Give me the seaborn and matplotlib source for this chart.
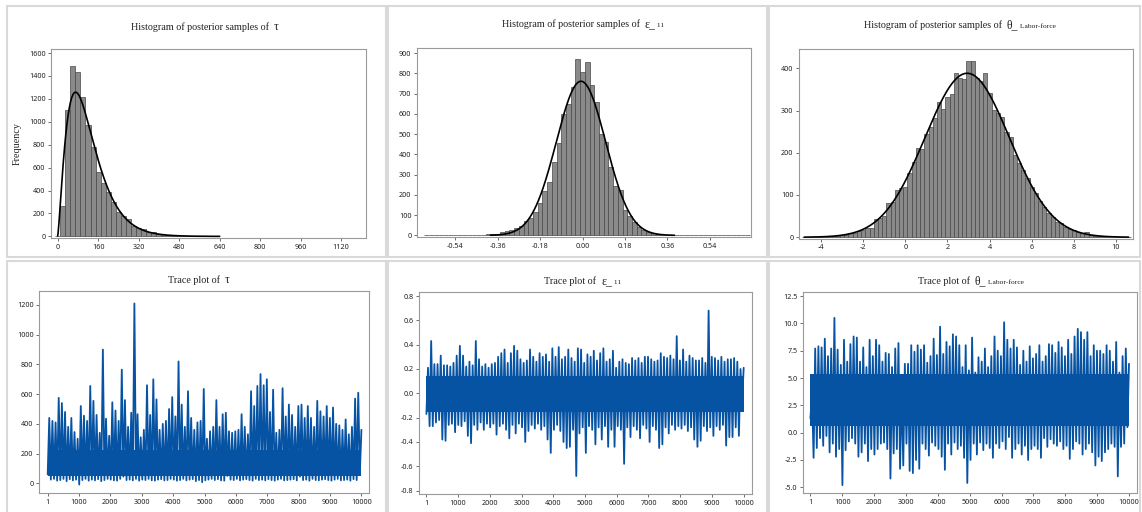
import math
import numpy as np
import pandas as pd
import matplotlib
matplotlib.use("Agg")
import matplotlib.pyplot as plt
import seaborn as sns
from matplotlib.patches import Rectangle
from matplotlib.offsetbox import TextArea, HPacker, AnchoredOffsetbox

# ---- histogram data (bin midpoints + counts) ----
tau_width = 20
tau_mids = np.arange(0, 620, 20)
tau_counts = [3, 267, 1105, 1491, 1433, 1215, 968, 776, 561, 465,
              390, 300, 209, 180, 150, 95, 72, 65, 42, 35,
              25, 15, 12, 8, 6, 4, 3, 2, 2, 1, 1]

eps_width = 0.02
eps_mids = np.round(np.arange(-0.66, 0.7001, 0.02), 2)
eps_counts = [1, 0, 0, 0, 0, 0, 0, 0, 0, 1, 1, 2,
              3, 5, 6, 8, 15, 20, 26, 35, 48, 70,
              88, 113, 158, 220, 262, 360, 455, 598, 650, 733,
              872, 805, 858, 740, 660, 500, 460, 340, 245, 222,
              125, 95, 65, 42, 28, 16, 10, 6, 4, 3,
              2, 1, 0, 0, 0, 0, 0, 0, 0, 0, 0, 0, 0, 0, 0, 1, 0]

theta_width = 0.2
theta_mids = np.round(np.arange(78) * 0.2 - 4.8, 1)
theta_counts = [1, 1, 1, 1, 2, 2, 3, 3, 4, 5,
                6, 9, 11, 14, 18, 22, 21, 44, 45, 50,
                80, 83, 113, 116, 120, 152, 178, 211, 209, 245,
                262, 282, 321, 303, 331, 338, 390, 377, 374, 418,
                418, 376, 370, 390, 342, 301, 293, 285, 250, 238,
                195, 175, 160, 140, 120, 105, 85, 72, 58, 47,
                35, 33, 25, 20, 16, 13, 11, 13, 6, 4,
                3, 2, 1, 1, 1, 1, 1, 0]

# ---- trace data: upper / lower swings of the chain, every 100 iterations ----
tau_hi = [440, 420, 410, 575, 540, 480, 380, 440, 345, 300,
          520, 455, 420, 655, 555, 460, 340, 900, 435, 320,
          545, 490, 420, 765, 560, 380, 475, 1210, 465, 310,
          360, 660, 460, 700, 565, 360, 400, 420, 500, 580,
          450, 820, 530, 380, 620, 440, 360, 410, 420, 635,
          300, 350, 380, 560, 380, 465, 475, 350, 340, 350,
          360, 465, 380, 330, 620, 520, 655, 735, 660, 700,
          480, 630, 340, 360, 640, 450, 530, 460, 380, 520,
          530, 440, 520, 440, 380, 555, 485, 450, 520, 440,
          510, 400, 390, 360, 430, 330, 380, 570, 610, 360]
tau_lo = [60, 25, 30, 18, 22, 30, 15, 28, 20, 25,
          -8, 22, 30, 18, 25, 20, 28, 15, 22, 30,
          25, 20, 18, 30, 45, 22, 25, 20, 30, 18,
          25, 22, 30, 20, 18, 25, 28, 20, 22, 30,
          25, 18, 22, 30, 20, 25, 28, 15, 22, 8,
          20, 25, 30, 22, 28, 20, 18, 50, 25, 22,
          30, 20, 25, 28, 22, 18, 30, 22, 25, 20,
          28, 22, 18, 25, 30, 20, 22, 25, 28, 20,
          45, 22, 25, 18, 30, 22, 20, 25, 28, 22,
          18, 25, 30, 20, 22, 25, 18, 28, 22, 60]
tau_core = (50, 225)  # range the chain fills solidly

eps_hi = [0.21, 0.43, 0.24, 0.24, 0.31, 0.23, 0.23, 0.22, 0.25, 0.31,
          0.39, 0.31, 0.22, 0.26, 0.23, 0.43, 0.28, 0.22, 0.24, 0.21,
          0.24, 0.25, 0.30, 0.33, 0.36, 0.25, 0.33, 0.39, 0.35, 0.28,
          0.25, 0.27, 0.36, 0.30, 0.26, 0.33, 0.30, 0.32, 0.26, 0.37,
          0.30, 0.38, 0.28, 0.30, 0.36, 0.29, 0.26, 0.37, 0.36, 0.25,
          0.32, 0.30, 0.35, 0.27, 0.33, 0.37, 0.26, 0.28, 0.35, 0.21,
          0.26, 0.28, 0.25, 0.24, 0.29, 0.27, 0.29, 0.25, 0.30, 0.30,
          0.28, 0.26, 0.27, 0.33, 0.30, 0.29, 0.31, 0.28, 0.47, 0.27,
          0.36, 0.26, 0.31, 0.29, 0.27, 0.27, 0.29, 0.25, 0.68, 0.30,
          0.29, 0.27, 0.30, 0.26, 0.28, 0.28, 0.29, 0.26, 0.20, 0.21]
eps_lo = [-0.17, -0.27, -0.27, -0.24, -0.22, -0.38, -0.39, -0.26, -0.25, -0.32,
          -0.26, -0.27, -0.23, -0.35, -0.41, -0.26, -0.30, -0.24, -0.30, -0.25,
          -0.28, -0.25, -0.34, -0.27, -0.25, -0.30, -0.37, -0.26, -0.33, -0.25,
          -0.28, -0.40, -0.31, -0.26, -0.29, -0.25, -0.30, -0.27, -0.38, -0.49,
          -0.30, -0.26, -0.31, -0.40, -0.45, -0.44, -0.30, -0.68, -0.33, -0.28,
          -0.49, -0.27, -0.30, -0.42, -0.28, -0.38, -0.27, -0.44, -0.30, -0.44,
          -0.27, -0.30, -0.58, -0.28, -0.36, -0.27, -0.30, -0.37, -0.26, -0.29,
          -0.40, -0.27, -0.30, -0.45, -0.42, -0.28, -0.33, -0.26, -0.30, -0.27,
          -0.29, -0.26, -0.31, -0.28, -0.38, -0.44, -0.39, -0.27, -0.31, -0.28,
          -0.35, -0.27, -0.30, -0.26, -0.43, -0.36, -0.36, -0.28, -0.35, -0.07]
eps_core = (-0.15, 0.14)

theta_hi = [3.5, 7.7, 7.9, 7.8, 8.6, 7.0, 7.7, 10.5, 7.6, 6.2,
            8.5, 6.5, 8.1, 8.8, 8.7, 6.5, 7.8, 6.0, 8.5, 7.0,
            8.5, 8.0, 6.5, 7.3, 7.2, 6.0, 7.7, 8.2, 4.0, 6.3,
            6.3, 8.0, 7.4, 8.0, 7.6, 8.0, 6.4, 7.0, 8.6, 7.1,
            9.7, 7.2, 8.3, 7.9, 9.0, 8.8, 8.0, 6.0, 8.0, 5.7,
            8.7, 5.5, 6.9, 6.5, 7.7, 6.0, 7.0, 8.8, 7.5, 7.0,
            10.1, 8.5, 7.7, 8.5, 7.8, 6.2, 7.5, 6.5, 7.9, 6.8,
            7.2, 8.0, 6.5, 7.0, 8.1, 8.0, 7.3, 8.3, 7.8, 7.0,
            8.5, 7.2, 8.8, 9.5, 9.2, 8.5, 9.2, 7.0, 8.0, 7.5,
            7.5, 7.2, 8.0, 7.5, 6.5, 8.3, 5.5, 7.0, 7.7, 6.3]
theta_lo = [1.3, -2.3, -1.4, -0.5, -1.2, -0.3, -1.8, -1.0, -2.2, -1.5,
            -4.8, -1.6, -0.8, -0.5, -1.0, -2.2, -1.8, -1.0, -2.6, -1.5,
            -2.0, -1.5, -1.0, -0.9, -1.5, -4.2, -1.9, -1.5, -3.3, -3.0,
            -1.0, -3.5, -3.7, -2.5, -3.3, -1.0, -1.5, -2.1, -0.9, -1.2,
            -1.5, -2.2, -3.4, -1.0, -2.0, -0.9, -1.5, -1.2, -2.3, -4.6,
            -2.5, -1.0, -2.0, -0.9, -1.6, -1.0, -1.4, -2.3, -1.0, -1.4,
            -0.8, -1.5, -0.4, -2.3, -1.5, -1.0, -2.0, -1.2, -2.5, -1.5,
            -1.2, -1.5, -2.3, -0.5, -1.3, -0.6, -1.0, -1.2, -0.8, -1.5,
            -1.2, -2.4, -1.5, -0.8, -1.0, -2.0, -1.5, -1.0, -1.8, -3.0,
            -2.2, -2.6, -1.8, -1.5, -1.0, -1.3, -4.0, -1.3, -1.0, 0.5]
theta_core = (0.6, 5.4)

sns.set_theme(style="white")
plt.rcParams["axes.unicode_minus"] = False
plt.rcParams["font.family"] = ["Noto Sans", "DejaVu Sans"]

W, H = 1142, 512
fig = plt.figure(figsize=(W / 100, H / 100), dpi=100)
fig.patch.set_facecolor("white")

BAR = "#8a8a8a"
EDGE = "#474747"
BLUE = "#0652a3"
SPINE = "#9a9a9a"
SERIF = "Liberation Serif"


def px_axes(l, r, t, b):
    return fig.add_axes([l / W, 1 - b / H, (r - l) / W, (b - t) / H])


def frame(x0, x1, y0, y1):
    fig.patches.append(Rectangle((x0 / W, 1 - y1 / H), (x1 - x0) / W, (y1 - y0) / H,
                                 transform=fig.transFigure, fill=False,
                                 ec="#d9d9d9", lw=1.5))


def style(ax):
    for s in ax.spines.values():
        s.set_color(SPINE)
        s.set_linewidth(0.8)
    ax.tick_params(axis="both", which="both", direction="out", length=2.5,
                   width=0.6, color="#555555", labelsize=5.2, labelcolor="#222222",
                   pad=1.5, bottom=True, left=True)
    ax.set_xlabel("")
    ax.set_ylabel("")


def title(xp, yp, main, sym, sub=None):
    parts = [TextArea(main, textprops=dict(family=SERIF, size=7.3, color="#222222")),
             TextArea(sym, textprops=dict(family=SERIF, size=8.5, color="#222222"))]
    if sub:
        parts.append(TextArea(sub, textprops=dict(family=SERIF, size=5.4, color="#222222")))
    box = HPacker(children=parts, align="baseline", pad=0, sep=0)
    anc = AnchoredOffsetbox(loc="center", child=box, pad=0, frameon=False,
                            bbox_to_anchor=(xp / W, 1 - yp / H),
                            bbox_transform=fig.transFigure, borderpad=0)
    fig.add_artist(anc)


def hist(ax, mids, counts, width):
    df = pd.DataFrame({"mid": np.asarray(mids, dtype=float),
                       "n": np.asarray(counts, dtype=float)})
    edges = np.append(df["mid"].values - width / 2, df["mid"].values[-1] + width / 2)
    sns.histplot(data=df, x="mid", weights="n", bins=list(edges), ax=ax, color=BAR,
                 edgecolor=EDGE, linewidth=0.5, alpha=1)


def trace(ax, lo, hi, core):
    vals = np.column_stack((lo, hi)).ravel()
    df = pd.DataFrame({"it": np.linspace(1, 10000, len(vals)), "v": vals})
    # the dense middle of the chain reads as a solid band
    ax.fill_between([1, 10000], core[0], core[1], color=BLUE, lw=0)
    sns.lineplot(data=df, x="it", y="v", ax=ax, color=BLUE, linewidth=1.3,
                 estimator=None, sort=False)


def fit_line(ax, g, y):
    sns.lineplot(x=g, y=y, ax=ax, color="black", linewidth=1.2,
                 estimator=None, sort=False)


def fmt1(vals):
    return [f"{v + 0.0:.1f}" for v in vals]


# panel frames
frame(7, 386, 6, 257)
frame(388, 767, 6, 257)
frame(769, 1140, 6, 257)
frame(7, 386, 261, 515)
frame(388, 767, 261, 515)
frame(769, 1140, 261, 515)

# ---- tau histogram (gamma fit by moments) ----
ax = px_axes(51, 366, 49, 238)
hist(ax, tau_mids, tau_counts, tau_width)
mean = np.average(tau_mids, weights=tau_counts)
var = np.average((tau_mids - mean) ** 2, weights=tau_counts)
k, th = mean ** 2 / var, var / mean
g = np.linspace(0.5, 640, 400)
dens = g ** (k - 1) * np.exp(-g / th) / (math.gamma(k) * th ** k)
fit_line(ax, g, dens * np.sum(tau_counts) * tau_width)
ax.set_xlim(-26, 1218)
ax.set_ylim(-14, 1635)
ax.set_xticks(np.arange(0, 1121, 160))
ax.set_yticks(np.arange(0, 1601, 200))
style(ax)
ax.set_ylabel("Frequency", family=SERIF, size=7.3)
ax.yaxis.set_label_coords(-0.092, 0.5)
title(205, 27, "Histogram of posterior samples of  ", "τ")

# ---- eps histogram ----
ax = px_axes(417, 751, 48, 237)
hist(ax, eps_mids, eps_counts, eps_width)
mu = np.average(eps_mids, weights=eps_counts)
sd = np.sqrt(np.average((eps_mids - mu) ** 2, weights=eps_counts))
g = np.linspace(-0.39, 0.39, 300)
dens = np.exp(-(g - mu) ** 2 / (2 * sd ** 2)) / (sd * np.sqrt(2 * np.pi))
fit_line(ax, g, dens * np.sum(eps_counts) * eps_width)
ax.set_xlim(-0.7015, 0.7142)
ax.set_ylim(-8, 925)
xt = np.round(np.arange(-0.54, 0.541, 0.18), 2)
ax.set_xticks(xt)
ax.set_xticklabels([f"{v + 0.0:.2f}" for v in xt])
ax.set_yticks(np.arange(0, 901, 100))
style(ax)
title(583, 24, "Histogram of posterior samples of  ", "ε_", " 11")

# ---- theta histogram ----
ax = px_axes(799, 1133, 49, 238.5)
hist(ax, theta_mids, theta_counts, theta_width)
mu = np.average(theta_mids, weights=theta_counts)
sd = np.sqrt(np.average((theta_mids - mu) ** 2, weights=theta_counts))
g = np.linspace(-4.8, 10.6, 300)
dens = np.exp(-(g - mu) ** 2 / (2 * sd ** 2)) / (sd * np.sqrt(2 * np.pi))
fit_line(ax, g, dens * np.sum(theta_counts) * theta_width)
ax.set_xlim(-5.05, 10.81)
ax.set_ylim(-3, 445.7)
ax.set_xticks(np.arange(-4, 11, 2))
ax.set_yticks(np.arange(0, 401, 100))
style(ax)
title(960, 25, "Histogram of posterior samples of  ", "θ_", " Labor-force")

iter_ticks = [1, 1000, 2000, 3000, 4000, 5000, 6000, 7000, 8000, 9000, 10000]

# ---- tau trace ----
ax = px_axes(39, 369, 291, 493)
trace(ax, tau_lo, tau_hi, tau_core)
ax.set_xlim(-276, 10242)
ax.set_ylim(-65, 1294)
ax.set_xticks(iter_ticks)
ax.set_yticks(np.arange(0, 1201, 200))
style(ax)
title(199, 280, "Trace plot of  ", "τ")

# ---- eps trace ----
ax = px_axes(419, 752, 292, 494)
trace(ax, eps_lo, eps_hi, eps_core)
ax.set_xlim(-232, 10262)
ax.set_ylim(-0.828, 0.833)
ax.set_xticks(iter_ticks)
yt = np.round(np.arange(-0.8, 0.81, 0.2), 1)
ax.set_yticks(yt)
ax.set_yticklabels(fmt1(yt))
style(ax)
title(583, 281, "Trace plot of  ", "ε_", " 11")

# ---- theta trace ----
ax = px_axes(803, 1137, 292, 493)
trace(ax, theta_lo, theta_hi, theta_core)
ax.set_xlim(-231, 10251)
ax.set_ylim(-5.52, 12.87)
ax.set_xticks(iter_ticks)
yt = np.arange(-5, 12.6, 2.5)
ax.set_yticks(yt)
ax.set_yticklabels(fmt1(yt))
style(ax)
title(971, 281, "Trace plot of  ", "θ_", " Labor-force")

fig.savefig("out.png", dpi=100)
